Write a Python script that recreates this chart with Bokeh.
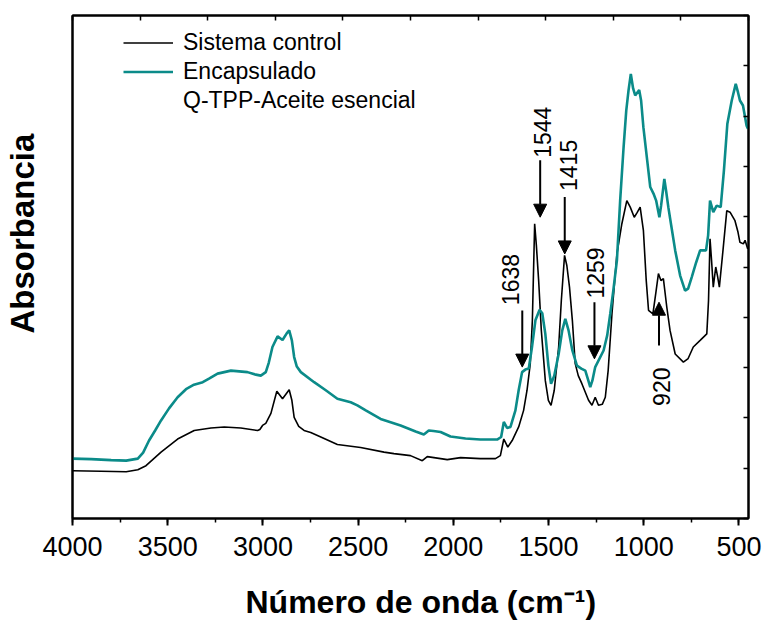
import math
from bokeh.plotting import figure
from bokeh.models import (Range1d, LinearAxis, FixedTicker, SingleIntervalTicker, Arrow,
                          NormalHead, Legend, LegendItem, Title)
from bokeh.core.properties import value
from bokeh.embed import file_html
from bokeh.resources import INLINE

FONT = "Liberation Sans"
TEAL = "#0b8b89"

# ---- data (wavenumber cm-1, absorbance a.u.) ----
teal_wn = [4000, 3902, 3797, 3718, 3657, 3629, 3598, 3566, 3535, 3493,
           3448, 3404, 3362, 3316, 3283, 3238, 3168, 3081, 3037, 3011,
           2985, 2969, 2950, 2923, 2897, 2875, 2862, 2848, 2836, 2822,
           2801, 2731, 2670, 2609, 2539, 2504, 2460, 2382, 2277, 2198,
           2155, 2129, 2104, 2067, 2015, 1936, 1858, 1770, 1749, 1735,
           1718, 1700, 1674, 1657, 1639, 1622, 1604, 1587, 1569, 1547,
           1533, 1517, 1501, 1487, 1470, 1447, 1428, 1412, 1395, 1375,
           1351, 1328, 1307, 1291, 1281, 1270, 1255, 1211, 1192, 1176,
           1160, 1141, 1124, 1106, 1092, 1080, 1068, 1056, 1045, 1024,
           1014, 1002, 982, 966, 949, 935, 918, 909, 892, 883,
           871, 856, 835, 809, 783, 767, 748, 725, 704, 673,
           662, 652, 635, 617, 596, 579, 561, 538, 517, 505,
           495, 479, 460, 453]
teal_abs = [0.119, 0.118, 0.116, 0.115, 0.119, 0.131, 0.155, 0.175, 0.195, 0.219,
            0.241, 0.257, 0.266, 0.271, 0.278, 0.288, 0.294, 0.291, 0.286, 0.284,
            0.291, 0.310, 0.341, 0.362, 0.355, 0.368, 0.374, 0.354, 0.321, 0.302,
            0.291, 0.271, 0.255, 0.238, 0.231, 0.225, 0.215, 0.198, 0.185, 0.173,
            0.167, 0.175, 0.174, 0.172, 0.163, 0.159, 0.157, 0.157, 0.162, 0.192,
            0.180, 0.182, 0.215, 0.255, 0.291, 0.296, 0.298, 0.341, 0.394, 0.415,
            0.408, 0.367, 0.304, 0.268, 0.284, 0.327, 0.374, 0.397, 0.374, 0.334,
            0.304, 0.298, 0.294, 0.274, 0.261, 0.274, 0.301, 0.334, 0.364, 0.407,
            0.453, 0.513, 0.632, 0.738, 0.811, 0.851, 0.884, 0.855, 0.841, 0.852,
            0.831, 0.778, 0.712, 0.659, 0.646, 0.632, 0.599, 0.622, 0.675, 0.652,
            0.619, 0.583, 0.533, 0.483, 0.453, 0.457, 0.480, 0.509, 0.533, 0.533,
            0.563, 0.632, 0.609, 0.622, 0.619, 0.692, 0.785, 0.831, 0.864, 0.847,
            0.831, 0.821, 0.781, 0.775]

black_wn = [4000, 3850, 3718, 3657, 3614, 3535, 3448, 3361, 3273, 3203,
            3116, 3028, 3016, 3002, 2985, 2958, 2927, 2897, 2862, 2848,
            2836, 2812, 2784, 2749, 2696, 2609, 2487, 2364, 2312, 2225,
            2163, 2137, 2032, 1962, 1858, 1779, 1753, 1735, 1714, 1691,
            1657, 1631, 1613, 1596, 1585, 1573, 1564, 1552, 1538, 1517,
            1501, 1487, 1470, 1447, 1433, 1416, 1404, 1390, 1375, 1360,
            1344, 1325, 1290, 1272, 1255, 1238, 1218, 1202, 1187, 1167,
            1141, 1115, 1089, 1071, 1050, 1035, 1019, 1002, 987, 975,
            952, 935, 923, 910, 897, 879, 862, 835, 792, 767,
            740, 704, 669, 660, 652, 644, 635, 622, 613, 603,
            584, 564, 547, 521, 505, 495, 477, 468, 454]
black_abs = [0.095, 0.094, 0.093, 0.097, 0.105, 0.132, 0.158, 0.175, 0.180, 0.182,
             0.180, 0.175, 0.177, 0.185, 0.189, 0.209, 0.253, 0.238, 0.256, 0.235,
             0.201, 0.183, 0.175, 0.171, 0.162, 0.147, 0.141, 0.132, 0.129, 0.125,
             0.115, 0.123, 0.117, 0.121, 0.119, 0.119, 0.125, 0.158, 0.142, 0.155,
             0.182, 0.215, 0.255, 0.308, 0.394, 0.586, 0.543, 0.473, 0.374, 0.274,
             0.235, 0.225, 0.255, 0.341, 0.433, 0.523, 0.503, 0.460, 0.394, 0.308,
             0.284, 0.268, 0.235, 0.225, 0.241, 0.225, 0.227, 0.241, 0.294, 0.407,
             0.526, 0.586, 0.632, 0.619, 0.599, 0.608, 0.619, 0.573, 0.473, 0.414,
             0.407, 0.453, 0.487, 0.473, 0.477, 0.420, 0.374, 0.327, 0.311, 0.318,
             0.341, 0.354, 0.367, 0.433, 0.556, 0.513, 0.460, 0.500, 0.483, 0.460,
             0.533, 0.612, 0.609, 0.592, 0.569, 0.549, 0.546, 0.553, 0.536]

series_names = ["Sistema control", "Encapsulado", "Q-TPP-Aceite esencial"]
x_title = "Número de onda (cm⁻¹)"
y_title = "Absorbancia"

# peak annotations
peak_labels = ["1638", "1544", "1415", "1259", "920"]
peak_wn = [1638, 1544, 1415, 1259, 920]
arrow_y_start = [0.4135, 0.712, 0.639, 0.430, 0.344]
arrow_y_end = [0.301, 0.599, 0.526, 0.3175, 0.430]
label_x = [1700, 1530, 1396, 1251, 905]
label_y = [0.475, 0.768, 0.702, 0.488, 0.262]

X_START, X_END = 4000, 450

p = figure(width=762, height=620, x_range=Range1d(X_START, X_END), y_range=Range1d(0, 1),
           output_backend="svg", toolbar_location=None,
           min_border_left=72, min_border_right=14, min_border_top=15, min_border_bottom=102)
p.xgrid.visible = False
p.ygrid.visible = False
p.outline_line_color = "black"
p.outline_line_width = 2
p.background_fill_color = "white"
p.border_fill_color = "white"

# bottom axis
xa = p.xaxis[0]
xa.ticker = SingleIntervalTicker(interval=500, num_minor_ticks=2)
xa.major_label_text_font = FONT
xa.major_label_text_font_size = "27px"
xa.major_label_text_color = "black"
xa.major_tick_out = 7
xa.major_tick_in = 0
xa.minor_tick_out = 4
xa.minor_tick_in = 0
xa.axis_line_width = 2
xa.major_tick_line_width = 2
xa.minor_tick_line_width = 1.5
xa.major_label_standoff = 11
xa.axis_line_color = "black"

# left axis: no ticks
ya = p.yaxis[0]
ya.ticker = FixedTicker(ticks=[])
ya.axis_line_width = 2
ya.axis_line_color = "black"
ya.major_label_standoff = 0
ya.major_tick_out = 0
ya.major_tick_in = 0
ya.minor_tick_out = 0
ya.minor_tick_in = 0

# top and right frame axes with inner ticks at tenths
top_ticks = [X_START + i * (X_END - X_START) / 10 for i in range(11)]
right_ticks = [i / 10 for i in range(11)]
top = LinearAxis(ticker=FixedTicker(ticks=top_ticks), major_tick_in=5, major_tick_out=0,
                 minor_tick_in=0, minor_tick_out=0, major_label_standoff=0,
                 major_label_overrides={t: "" for t in top_ticks},
                 axis_line_width=2, major_tick_line_width=1.5)
right = LinearAxis(ticker=FixedTicker(ticks=right_ticks), major_tick_in=5, major_tick_out=0,
                   minor_tick_in=0, minor_tick_out=0, major_label_standoff=0,
                   major_label_overrides={t: "" for t in right_ticks},
                   axis_line_width=2, major_tick_line_width=1.5)
p.add_layout(top, "above")
p.add_layout(right, "right")


def spacer(size, at):
    # an invisible axis (one hidden tick) used only to reserve space before a title
    return LinearAxis(ticker=FixedTicker(ticks=[at]), major_tick_out=size, major_tick_in=0,
                      minor_tick_out=0, minor_tick_in=0, axis_line_color=None,
                      major_tick_line_color=None, major_label_standoff=0,
                      major_label_overrides={at: ""})


p.add_layout(spacer(23, 2000), "below")
p.add_layout(spacer(32, 0.5), "left")

# axis titles as side-panel titles
p.add_layout(Title(text=x_title, align="left", offset=173, standoff=0,
                   text_font=FONT, text_font_size="32px", text_font_style="bold",
                   text_color="black"), "below")
p.add_layout(Title(text=y_title, align="left", offset=185, standoff=0,
                   text_font=FONT, text_font_size="33px", text_font_style="bold",
                   text_color="black"), "left")

# spectra
r_black = p.line(black_wn, black_abs, line_color="black", line_width=1.6)
r_teal = p.line(teal_wn, teal_abs, line_color=TEAL, line_width=2.6)
r_dummy = p.line([], [], line_alpha=0)

legend = Legend(items=[LegendItem(label=series_names[0], renderers=[r_black]),
                       LegendItem(label=series_names[1], renderers=[r_teal]),
                       LegendItem(label=series_names[2], renderers=[r_dummy])],
                location=(51, 403), glyph_width=50, glyph_height=29, label_height=29,
                spacing=0, padding=0, margin=0, label_standoff=10,
                border_line_color=None, background_fill_alpha=0,
                label_text_font=FONT, label_text_font_size="23px", label_text_color="black")
p.add_layout(legend)

# arrows
for xw, y0, y1 in zip(peak_wn, arrow_y_start, arrow_y_end):
    p.add_layout(Arrow(end=NormalHead(size=13, fill_color="black", line_color="black", line_width=1),
                       x_start=xw, y_start=y0, x_end=xw, y_end=y1,
                       line_color="black", line_width=2))

p.text(x=label_x, y=label_y, text=peak_labels, angle=math.pi / 2,
       text_align="center", text_baseline="middle", text_font=value(FONT),
       text_font_size="23px", text_color="black")

open("out.html", "w").write(file_html(p, INLINE))
